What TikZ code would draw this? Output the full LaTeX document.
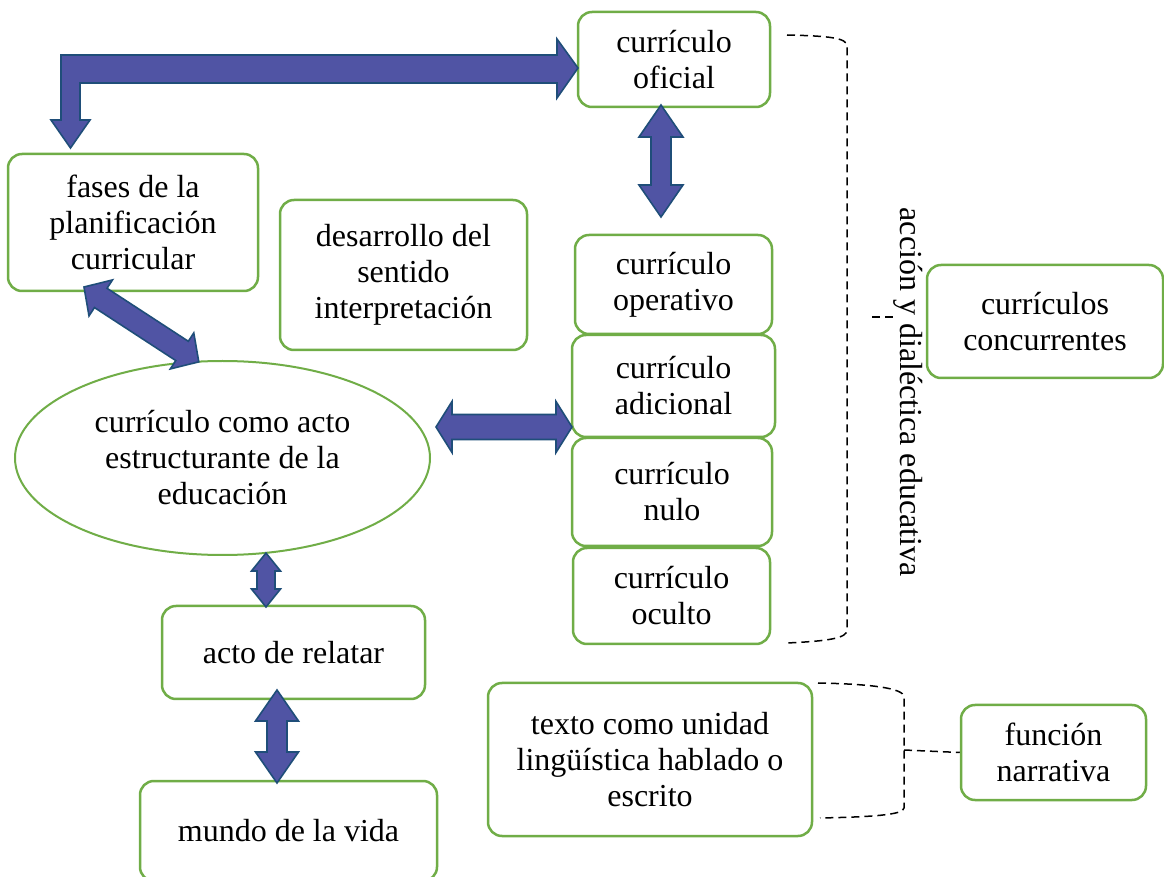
\documentclass[tikz,border=0pt]{standalone}
\usepackage{fontspec}
\setmainfont{Liberation Serif}
\usetikzlibrary{shapes.geometric,calc}
\definecolor{boxgreen}{HTML}{70AD47}
\definecolor{arrowfill}{HTML}{5054A4}
\definecolor{arrowline}{HTML}{1F4E79}
\tikzset{
  base/.style = {
    draw=boxgreen, line width=1.25pt, fill=white,
    align=center, inner sep=0pt, font=\fontsize{16}{18}\selectfont
  },
  box/.style = {base, rectangle, rounded corners=7pt},
  oval/.style = {base, ellipse, line width=1pt},
  blockarrow/.style = {fill=arrowfill, draw=arrowline, line width=0.8pt, line join=miter},
  bracket/.style = {draw=black, line width=0.75pt, dash pattern=on 4pt off 2.5pt},
}
% double block arrow: from, to, shaft half width, head half width, head length (pt)
\newcommand{\blockarr}[5]{%
  \path let \p1=($(#2)-(#1)$) in \pgfextra{%
    \pgfmathsetmacro\arrang{atan2(\y1,\x1)}%
    \pgfmathsetmacro\arrlen{veclen(\x1,\y1)}%
    \pgfmathsetmacro\arrback{\arrlen-#5}%
    \xdef\arrang{\arrang}\xdef\arrlen{\arrlen}\xdef\arrback{\arrback}};
  \draw[blockarrow, shift={(#1)}, rotate=\arrang]
    (0pt,0pt) -- (#5pt,#4pt) -- (#5pt,#3pt) -- (\arrback pt,#3pt) -- (\arrback pt,#4pt)
    -- (\arrlen pt,0pt) -- (\arrback pt,-#4pt) -- (\arrback pt,-#3pt)
    -- (#5pt,-#3pt) -- (#5pt,-#4pt) -- cycle;
}

\begin{document}
\begin{tikzpicture}[x=0.5pt, y=-0.5pt]
  \useasboundingbox (0,0) rectangle (1164,877);

  % left column
  \node (fases) [box, minimum width=125pt, minimum height=68.5pt] at (133,222.5) {fases de la\\planificación\\curricular};
  \node (desarrollo) [box, minimum width=123.5pt, minimum height=75pt] at (403.5,275) {desarrollo del\\sentido\\interpretación};
  \node (acto) [oval, minimum width=207.5pt, minimum height=97pt] at (222.5,458) {currículo como acto\\estructurante de la\\educación};
  \node (relatar) [box, minimum width=131.5pt, minimum height=46.5pt] at (293.5,652.5) {acto de relatar};
  \node (mundo) [box, minimum width=148.5pt, minimum height=50pt] at (288.5,831) {mundo de la vida};

  % curricula
  \node (oficial) [box, minimum width=96pt, minimum height=47.5pt] at (674,59.5) {currículo\\oficial};
  \node (operativo) [box, minimum width=98.5pt, minimum height=49.5pt] at (673.5,284.5) {currículo\\operativo};
  \node (adicional) [box, minimum width=101.5pt, minimum height=51pt] at (673.5,386) {currículo\\adicional};
  \node (nulo) [box, minimum width=100pt, minimum height=54pt] at (672,492) {currículo\\nulo};
  \node (oculto) [box, minimum width=98.5pt, minimum height=48pt] at (671.5,596) {currículo\\oculto};
  \node (concurrentes) [box, minimum width=118pt, minimum height=56.5pt] at (1045,321.5) {currículos\\concurrentes};
  \node (accion) [rotate=-90, font=\fontsize{16}{18}\selectfont] at (908,392) {acción y dialéctica educativa};

  % text
  \node (texto) [box, minimum width=162pt, minimum height=76.5pt] at (650,759.5) {texto como unidad\\lingüística hablado o\\escrito};
  \node (funcion) [box, minimum width=92.5pt, minimum height=47.5pt] at (1053.5,752.5) {función\\narrativa};

  % brackets
  \draw[bracket] (787,35) .. controls (830,36) and (847,38) .. (847,46) -- (847,630)
    .. controls (847,638) and (830,641) .. (787,643);
  \coordinate (bt) at (847,317);
  \draw[bracket] ($(bt)+(25,0)$) -- ++(21,0);
  \draw[bracket] (818,683) .. controls (870,684) and (904,688) .. (904,697) -- (904,808)
    .. controls (904,815) and (870,817) .. (820,818);
  \coordinate (lt) at (904,750);
  \draw[bracket] (lt) -- (funcion.west);

  % block arrows
  \draw[blockarrow] (61,55) -- (557,55) -- (557,39) -- (578,68) -- (557,98) -- (557,83)
    -- (80,83) -- (80,120) -- (90,120) -- (70.5,148) -- (51,120) -- (61,120) -- cycle;
  \coordinate (d1) at (84,287);  \coordinate (d2) at (199,362);
  \coordinate (o1) at (661,105); \coordinate (o2) at (661,217);
  \coordinate (h1) at (436,427); \coordinate (h2) at (572,427);
  \coordinate (r1) at (266,553); \coordinate (r2) at (266,607);
  \coordinate (m1) at (277,690); \coordinate (m2) at (277,783);
  \blockarr{d1}{d2}{5.75}{10.75}{10}
  \blockarr{o1}{o2}{5}{11}{16}
  \blockarr{h1}{h2}{6.25}{12.75}{8}
  \blockarr{r1}{r2}{4.5}{7.25}{9}
  \blockarr{m1}{m2}{5}{10.75}{15.5}
\end{tikzpicture}
\end{document}
